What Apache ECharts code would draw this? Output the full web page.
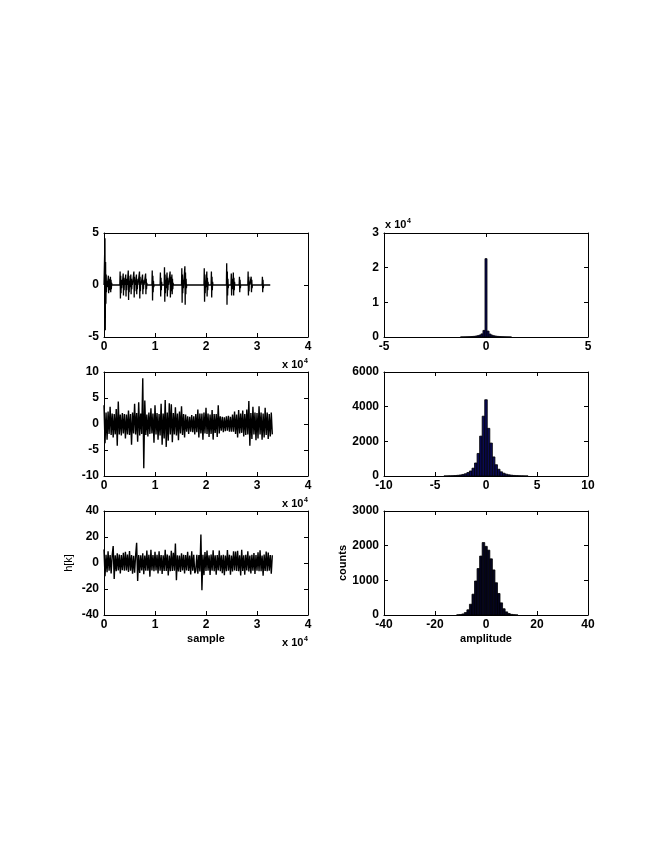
<!DOCTYPE html>
<html>
<head>
<meta charset="utf-8">
<script src="https://cdn.jsdelivr.net/npm/echarts@6/dist/echarts.min.js"></script>
<style>
  html, body { margin: 0; padding: 0; background: #fff; }
  #main { width: 664px; height: 860px; }
</style>
</head>
<body>
<div id="main"></div>
<script>
// ---- data ----

// top-left: clicks / bursts (sample index, values inside each burst)
var sig1End = 32600;
var burstStep = 60;
var burstStart = [130, 800, 1200, 3100, 3700, 4200, 4700, 5200, 5800, 6300, 6900, 7500, 8100,
  9400, 11000, 11800, 12300, 12900, 13250, 15200, 15800, 19600, 20100, 21000, 24000,
  24900, 25300, 26500, 28200, 28800, 31000];
var burstValues = [
  [4.5, -4.35, 2.2, -1.8, 1.0, -0.7, 0.4, -0.2],
  [0.9, -0.8, 0.6, -0.5, 0.3, -0.2],
  [0.8, -0.7, 0.5, -0.4, 0.2],
  [1.3, -1.3, 0.9, -0.8, 0.5, -0.3, 0.2],
  [1.1, -1.0, 0.7, -0.5, 0.3],
  [1.0, -1.1, 0.6, -0.5, 0.3],
  [1.4, -1.45, 0.9, -0.7, 0.4, -0.2],
  [1.0, -0.9, 0.6, -0.4, 0.2],
  [1.3, -1.2, 0.8, -0.6, 0.3],
  [1.0, -0.9, 0.6, -0.4, 0.2],
  [1.3, -1.3, 0.8, -0.6, 0.3],
  [1.0, -0.9, 0.5, -0.4, 0.2],
  [1.1, -0.9, 0.6, -0.4, 0.2],
  [1.4, -1.5, 0.9, -0.7, 0.4, -0.2],
  [1.2, -1.1, 0.7, -0.5, 0.3],
  [1.7, -1.6, 1.0, -0.8, 0.5, -0.3],
  [1.2, -1.1, 0.7, -0.5, 0.3],
  [1.3, -1.2, 0.8, -0.6, 0.3],
  [1.0, -0.9, 0.6, -0.4, 0.2],
  [1.6, -1.7, 1.0, -0.8, 0.5, -0.3],
  [1.8, -1.9, 1.2, -0.9, 0.6, -0.3],
  [1.6, -1.6, 1.0, -0.8, 0.4, -0.2],
  [1.3, -1.1, 0.7, -0.5, 0.3],
  [1.3, -1.2, 0.8, -0.5, 0.3],
  [2.1, -1.9, 1.3, -1.0, 0.6, -0.3],
  [1.1, -1.0, 0.6, -0.4, 0.2],
  [1.2, -1.0, 0.7, -0.5, 0.3],
  [0.8, -0.7, 0.5, -0.3],
  [1.3, -1.0, 0.8, -0.6, 0.3],
  [0.8, -0.7, 0.5, -0.3],
  [0.8, -0.7, 0.5, -0.3]
];

// middle-left and bottom-left: one value every 200 samples
var sampleStep = 200;
var sig2 = [
  3.6,-3.7,2.2,-3.0,2.4,-1.9,3.3,-2.1,2.0,-2.6,
  1.9,-2.0,2.9,-4.2,4.3,-2.0,1.8,-2.2,2.1,-1.8,
  1.9,-2.8,1.8,-2.0,2.6,-2.1,1.9,-4.0,2.2,-1.8,
  3.9,-2.0,2.1,-3.4,4.2,-2.2,2.0,-1.9,8.8,-8.5,
  4.5,-2.1,1.8,-2.4,2.2,-1.9,3.0,-1.8,2.0,-3.6,
  3.6,-2.0,2.1,-3.0,1.9,-2.2,3.9,-4.0,2.0,-2.8,
  4.6,-4.4,2.2,-3.2,4.0,-2.0,3.8,-3.5,2.1,-2.0,
  3.2,-2.2,2.0,-3.1,2.4,-1.8,3.4,-2.1,1.9,-2.6,
  1.8,-1.5,1.5,-1.9,1.4,-1.5,1.7,-1.6,1.5,-2.0,
  1.9,-1.6,2.8,-2.6,2.0,-1.8,2.0,-3.0,2.2,-1.8,
  3.1,-1.9,2.0,-2.5,1.8,-1.9,2.7,-3.0,1.9,-1.7,
  1.9,-2.5,3.6,-1.8,1.5,-1.3,1.4,-1.6,1.3,-1.4,
  1.5,-1.3,1.6,-1.5,1.4,-1.5,1.8,-1.5,2.4,-1.9,
  1.8,-2.6,2.7,-1.8,2.0,-1.7,2.6,-2.4,1.9,-2.1,
  2.8,-2.0,4.4,-4.2,2.1,-2.9,3.3,-2.0,2.2,-3.1,
  2.1,-2.8,3.4,-2.0,2.2,-3.0,2.0,-2.6,3.1,-2.1,
  2.2,-2.9,1.9,-2.4,2.2,-2.0
];
var sig3 = [
  10.5,-10.2,6.4,-7.1,9.0,-6.0,6.2,-8.0,5.8,13.0,
  -12.2,5.9,-6.3,7.4,-5.8,6.5,-8.0,6.1,-5.6,7.9,
  -6.0,8.7,-5.7,6.6,-6.9,9.2,-5.9,6.1,-8.3,5.6,
  -7.5,6.0,15.6,-13.8,6.2,-7.7,6.0,-5.7,7.4,-8.6,
  5.8,-6.0,9.5,-5.9,6.3,-10.5,10.2,-5.8,6.1,-6.4,
  8.7,-5.8,6.4,-8.1,9.0,-5.9,6.2,-8.4,6.0,-6.2,
  10.2,-6.1,6.5,-9.6,5.8,-6.3,9.4,-6.1,7.8,-5.9,
  15.0,-13.2,6.0,-6.6,5.8,-6.9,7.5,-5.8,6.3,-8.0,
  6.1,-5.7,8.6,-6.2,5.8,-8.8,9.1,-5.9,6.4,-7.9,
  -6.0,6.4,-8.2,6.1,-6.6,22.0,-21.0,6.3,-9.3,8.4,
  -6.2,9.6,-6.0,5.9,-9.2,6.6,-5.9,9.8,-6.3,5.9,
  -9.0,6.1,-5.8,9.5,-6.4,6.0,-7.8,6.4,-9.4,5.8,
  -6.3,9.9,-5.9,6.4,-9.1,5.8,-6.5,9.0,-5.7,8.8,
  -6.1,9.4,-6.4,5.9,-9.6,10.2,-6.1,6.0,-9.0,6.3,
  -5.8,9.1,-6.5,5.8,-8.0,6.4,-6.0,7.6,-8.4,6.1,
  -6.0,8.3,-6.4,9.7,-6.3,5.7,-9.8,6.5,-6.1,8.9,
  -6.4,8.1,-6.0,6.2,-8.2,5.9
];

// histograms: bin centres and counts
var hist1Width = 0.1;
var hist1Centers = [-1.2,-1.1,-1.0,-0.9,-0.8,-0.7,-0.6,-0.5,-0.4,-0.3,-0.2,-0.1,0,
  0.1,0.2,0.3,0.4,0.5,0.6,0.7,0.8,0.9,1.0,1.1,1.2];
var hist1Counts = [20,30,45,65,90,130,180,260,380,560,900,1900,22600,
  1700,850,520,350,240,170,120,85,60,40,28,18];

var hist2Width = 0.25;
var hist2Centers = [-4,-3.75,-3.5,-3.25,-3,-2.75,-2.5,-2.25,-2,-1.75,-1.5,-1.25,-1,-0.75,-0.5,-0.25,0,
  0.25,0.5,0.75,1,1.25,1.5,1.75,2,2.25,2.5,2.75,3,3.25,3.5,3.75,4];
var hist2Counts = [3,6,10,16,26,40,60,90,130,200,290,450,750,1300,2300,3450,4400,
  2750,1900,1100,650,390,240,160,105,70,48,32,22,14,9,5,3];

var hist3Width = 1;
var hist3Centers = [-11,-10,-9,-8,-7,-6,-5,-4,-3,-2,-1,0,1,2,3,4,5,6,7,8,9,10,11,12];
var hist3Counts = [5,12,30,70,150,310,600,980,1340,1700,2090,1980,1870,1620,1300,930,620,350,180,90,42,18,8,3];

// ---- build ----
function sig1Points() {
  var pts = [[0, 0]];
  for (var i = 0; i < burstStart.length; i++) {
    var t = burstStart[i], vals = burstValues[i];
    pts.push([t, 0]);
    for (var k = 0; k < vals.length; k++) pts.push([t + (k + 1) * burstStep, vals[k]]);
    pts.push([t + (vals.length + 1) * burstStep, 0]);
  }
  pts.push([sig1End, 0]);
  return pts;
}
function sampled(arr) {
  return arr.map(function (v, i) { return [i * sampleStep, v]; });
}
function pairs(xs, ys) {
  return xs.map(function (x, i) { return [x, ys[i]]; });
}

var FONT = 'Liberation Sans, Arial, sans-serif';
var labelStyle = { color: '#000', fontFamily: FONT, fontSize: 12, fontWeight: 'bold' };
var plain = function (v) { return String(v); };
var per10k = function (v) { return String(v / 10000); };

var grids = [
  { left: 104, top: 233, width: 204, height: 104 },
  { left: 384, top: 233, width: 204, height: 104 },
  { left: 104, top: 372, width: 204, height: 104 },
  { left: 384, top: 372, width: 204, height: 104 },
  { left: 104, top: 511, width: 204, height: 104 },
  { left: 384, top: 511, width: 204, height: 104 }
];

// per panel: x range, y range, label formatters, names
var panels = [
  { x: [0, 40000, 10000], y: [-5, 5, 5], xf: per10k },
  { x: [-5, 5, 5], y: [0, 30000, 10000], yf: per10k },
  { x: [0, 40000, 10000], y: [-10, 10, 5], xf: per10k },
  { x: [-10, 10, 5], y: [0, 6000, 2000] },
  { x: [0, 40000, 10000], y: [-40, 40, 20], xf: per10k, xn: 'sample', yn: 'h[k]' },
  { x: [-40, 40, 20], y: [0, 3000, 1000], xn: 'amplitude', yn: 'counts' }
];

var axisLine = { show: true, onZero: false, lineStyle: { color: '#000', width: 1 } };
var tick = { show: true, inside: true, length: 4, lineStyle: { color: '#000' } };

var xAxes = [], yAxes = [];
panels.forEach(function (p, g) {
  xAxes.push({
    type: 'value', gridIndex: g, position: 'bottom', min: p.x[0], max: p.x[1], interval: p.x[2],
    axisLine: axisLine, axisTick: tick, splitLine: { show: false },
    axisLabel: Object.assign({ margin: 4, formatter: p.xf || plain }, labelStyle),
    name: p.xn || '', nameLocation: 'middle', nameGap: 18,
    nameTextStyle: { color: '#000', fontFamily: FONT, fontSize: 11, fontWeight: 'bold' }
  });
  xAxes.push({
    type: 'value', gridIndex: g, position: 'top', min: p.x[0], max: p.x[1], interval: p.x[2],
    axisLine: axisLine, axisTick: tick, splitLine: { show: false }, axisLabel: { show: false }
  });
  yAxes.push({
    type: 'value', gridIndex: g, position: 'left', min: p.y[0], max: p.y[1], interval: p.y[2],
    axisLine: axisLine, axisTick: tick, splitLine: { show: false },
    axisLabel: Object.assign({ margin: 5, formatter: p.yf || plain }, labelStyle),
    name: p.yn || '', nameLocation: 'middle', nameGap: p.yn === 'counts' ? 35 : 30,
    nameTextStyle: { color: '#000', fontFamily: FONT, fontSize: 11, fontWeight: p.yn === 'counts' ? 'bold' : 'normal' }
  });
  yAxes.push({
    type: 'value', gridIndex: g, position: 'right', min: p.y[0], max: p.y[1], interval: p.y[2],
    axisLine: axisLine, axisTick: tick, splitLine: { show: false }, axisLabel: { show: false }
  });
});

function lineSeries(g, data, w) {
  return {
    type: 'line', xAxisIndex: g * 2, yAxisIndex: g * 2, data: data,
    showSymbol: false, symbol: 'none', silent: true,
    lineStyle: { color: '#000', width: w }
  };
}
function histSeries(g, data, w, fill) {
  return {
    type: 'custom', xAxisIndex: g * 2, yAxisIndex: g * 2, data: data, silent: true,
    renderItem: function (params, api) {
      var c = api.value(0), h = api.value(1);
      var a = api.coord([c - w / 2, h]);
      var b = api.coord([c + w / 2, 0]);
      return {
        type: 'rect',
        shape: { x: a[0], y: a[1], width: b[0] - a[0], height: b[1] - a[1] },
        style: { fill: fill, stroke: '#000', lineWidth: 0.8 }
      };
    }
  };
}

function expText(x, yBase, align) {
  // "x 10^4" exponent label
  var textW = 21;
  var x0 = align === 'left' ? x : x - textW - 5;
  return [
    { type: 'text', x: x0, y: yBase, style: { text: 'x 10', font: 'bold 11px ' + FONT, fill: '#000', textAlign: 'left', textVerticalAlign: 'bottom' } },
    { type: 'text', x: x0 + textW + 1, y: yBase - 5, style: { text: '4', font: 'bold 7px ' + FONT, fill: '#000', textAlign: 'left', textVerticalAlign: 'bottom' } }
  ];
}

var chart = echarts.init(document.getElementById('main'), null, { renderer: 'canvas' });
chart.setOption({
  animation: false,
  backgroundColor: '#fff',
  grid: grids,
  xAxis: xAxes,
  yAxis: yAxes,
  series: [
    lineSeries(0, sig1Points(), 1.3),
    histSeries(1, pairs(hist1Centers, hist1Counts), hist1Width, '#0a0a55'),
    lineSeries(2, sampled(sig2), 1.4),
    histSeries(3, pairs(hist2Centers, hist2Counts), hist2Width, '#0a0a55'),
    lineSeries(4, sampled(sig3), 1.4),
    histSeries(5, pairs(hist3Centers, hist3Counts), hist3Width, '#050520')
  ],
  graphic: [].concat(
    expText(308, 370, 'right'),
    expText(308, 509, 'right'),
    expText(308, 648, 'right'),
    expText(385, 230, 'left')
  )
});
</script>
</body>
</html>
